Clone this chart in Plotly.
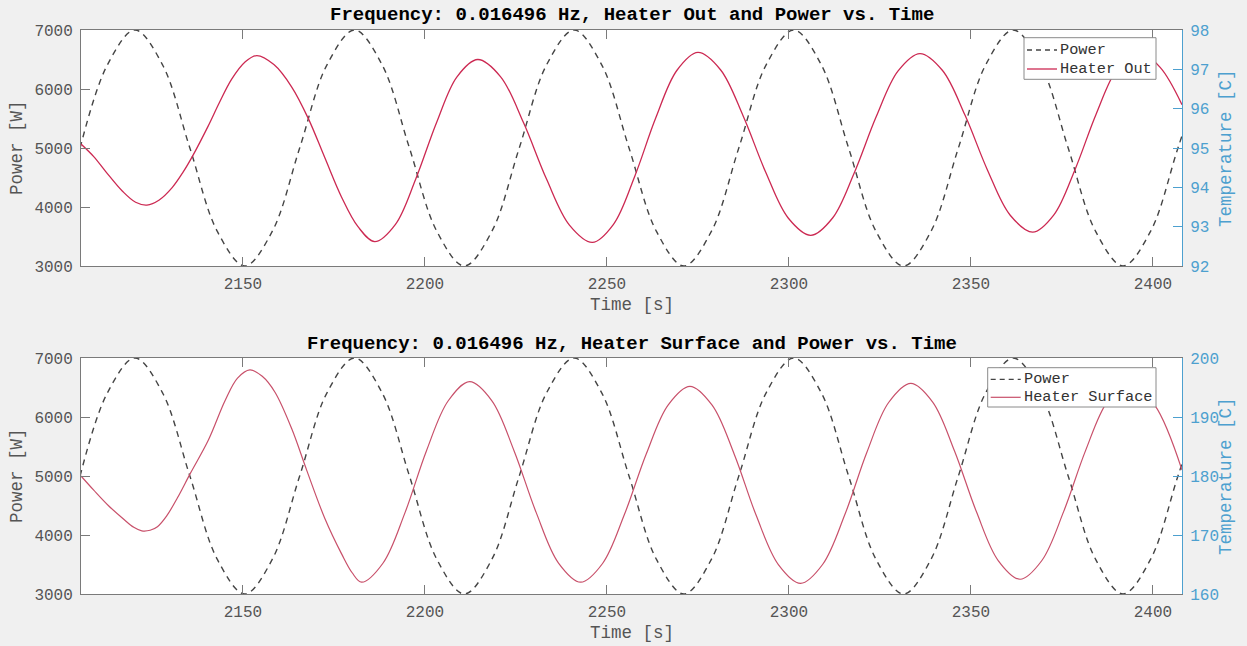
import plotly.graph_objects as go

# ---- data -------------------------------------------------------------
# heater power command (W), sampled every 1/8 of a cycle
power_t = [2105.25, 2112.79, 2120.33, 2127.87, 2135.41, 2142.96, 2150.50, 2158.04,
           2165.58, 2173.12, 2180.66, 2188.20, 2195.74, 2203.28, 2210.82, 2218.37,
           2225.91, 2233.45, 2240.99, 2248.53, 2256.07, 2263.61, 2271.15, 2278.69,
           2286.23, 2293.78, 2301.32, 2308.86, 2316.40, 2323.94, 2331.48, 2339.02,
           2346.56, 2354.10, 2361.64, 2369.19, 2376.73, 2384.27, 2391.81, 2399.35,
           2406.89, 2414.43]
power_w = [5000, 6414, 7000, 6414, 5000, 3586, 3000, 3586,
           5000, 6414, 7000, 6414, 5000, 3586, 3000, 3586,
           5000, 6414, 7000, 6414, 5000, 3586, 3000, 3586,
           5000, 6414, 7000, 6414, 5000, 3586, 3000, 3586,
           5000, 6414, 7000, 6414, 5000, 3586, 3000, 3586,
           5000, 6414]

# heater outlet temperature (C)
out_t = [2105.5, 2109.0, 2112.3, 2116.9, 2120.5, 2123.6, 2127.0, 2130.6, 2133.5,
         2136.3, 2140.4, 2143.5, 2146.9, 2150.5, 2153.8, 2158.5, 2163.4, 2167.9,
         2172.5, 2177.1, 2181.6, 2186.2,
         2191.9, 2197.5, 2203.2, 2208.8, 2214.5,
         2220.8, 2227.1, 2233.4, 2239.7, 2246.0,
         2251.8, 2257.6, 2263.4, 2269.2, 2275.0,
         2281.2, 2287.4, 2293.6, 2299.8, 2306.0,
         2312.0, 2318.0, 2324.0, 2330.0, 2336.0,
         2342.2, 2348.4, 2354.6, 2360.8, 2367.0,
         2372.8, 2378.6, 2384.4, 2390.2, 2396.0,
         2402.0, 2408.0]
out_c = [95.10, 94.78, 94.40, 93.90, 93.62, 93.55, 93.68, 94.00, 94.38,
         94.82, 95.55, 96.15, 96.75, 97.18, 97.35, 97.12, 96.55, 95.76,
         94.75, 93.75, 93.00, 92.62,
         93.06, 94.22, 95.65, 96.81, 97.25,
         96.81, 95.64, 94.21, 93.04, 92.60,
         93.06, 94.27, 95.76, 96.97, 97.43,
         96.99, 95.82, 94.39, 93.22, 92.78,
         93.22, 94.38, 95.80, 96.96, 97.40,
         96.97, 95.83, 94.43, 93.29, 92.86,
         93.30, 94.45, 95.86, 97.01, 97.45,
         97.05, 96.10]

# heater surface temperature (C)
surf_t = [2105.5, 2109.0, 2113.0, 2117.0, 2120.0, 2122.2, 2124.5, 2126.5, 2129.0,
          2132.0, 2135.5, 2140.5, 2145.1, 2148.5, 2151.9, 2155.3, 2158.8, 2163.4,
          2167.5, 2172.5, 2177.1, 2180.0, 2182.6,
          2188.5, 2194.5, 2200.4, 2206.4, 2212.3,
          2218.4, 2224.5, 2230.6, 2236.7, 2242.8,
          2248.8, 2254.8, 2260.8, 2266.8, 2272.8,
          2278.9, 2285.0, 2291.0, 2297.1, 2303.2,
          2309.3, 2315.4, 2321.4, 2327.4, 2333.5,
          2339.5, 2345.5, 2351.5, 2357.5, 2363.5,
          2369.5, 2375.5, 2381.5, 2387.5, 2393.5,
          2400.5, 2408.0]
surf_c = [180.0, 177.6, 175.0, 172.8, 171.3, 170.7, 170.8, 171.4, 173.2,
          176.3, 180.4, 186.1, 192.8, 196.6, 198.0, 196.9, 194.2, 188.0,
          181.0, 172.8, 166.8, 163.6, 162.0,
          165.25, 173.75, 184.25, 192.75, 196.0,
          192.75, 184.25, 173.75, 165.25, 162.0,
          165.17, 173.47, 183.73, 192.03, 195.2,
          192.01, 183.66, 173.34, 164.99, 161.8,
          165.04, 173.51, 183.99, 192.46, 195.7,
          192.53, 184.23, 173.97, 165.67, 162.5,
          165.68, 174.0, 184.3, 192.62, 195.8,
          192.0, 181.0]

time_range = [2105.5, 2408.0]
power_ticks = [3000, 4000, 5000, 6000, 7000]
time_ticks = [2150, 2200, 2250, 2300, 2350, 2400]
out_ticks = [92, 93, 94, 95, 96, 97, 98]
surf_ticks = [160, 170, 180, 190, 200]

# ---- styling ----------------------------------------------------------
W, H = 1247, 646
FONT = "Liberation Mono"
GREY = "#555555"
AXIS = "#7a7a7a"
BLUE = "#4da0cf"
POWER_COL = "#444444"
OUT_COL = "#cc2952"
SURF_COL = "#c8506a"
POWER_DASH = "6px,5px"

def px_x(p):
    return p / W

def px_y(p):
    return 1 - p / H

x_dom = [px_x(81), px_x(1182)]
top_dom = [px_y(266), px_y(30)]
bot_dom = [px_y(594), px_y(358)]

fig = go.Figure()

power_line = dict(color=POWER_COL, width=1.4, dash=POWER_DASH, shape="spline")

# top panel
fig.add_trace(go.Scatter(x=power_t, y=power_w, name="Power", mode="lines",
                         line=power_line, xaxis="x", yaxis="y", showlegend=False))
fig.add_trace(go.Scatter(x=out_t, y=out_c, name="Heater Out", mode="lines",
                         line=dict(color=OUT_COL, width=1.3, shape="spline"),
                         xaxis="x", yaxis="y2", showlegend=False))
# bottom panel
fig.add_trace(go.Scatter(x=power_t, y=power_w, name="Power", mode="lines",
                         line=power_line, xaxis="x2", yaxis="y3", showlegend=False))
fig.add_trace(go.Scatter(x=surf_t, y=surf_c, name="Heater Surface", mode="lines",
                         line=dict(color=SURF_COL, width=1.2, shape="spline"),
                         xaxis="x2", yaxis="y4", showlegend=False))

tick_font = dict(family=FONT, size=16, color=GREY)
blue_font = dict(family=FONT, size=16, color=BLUE)

def xaxis_cfg(anchor):
    return dict(domain=x_dom, anchor=anchor, range=time_range, tickvals=time_ticks,
                ticks="inside", ticklen=9, tickcolor=AXIS, showline=True, linecolor=AXIS,
                linewidth=1, mirror="ticks", showgrid=False, zeroline=False,
                tickfont=tick_font, ticklabelstandoff=3, automargin=False)

def left_cfg(dom, anchor):
    return dict(domain=dom, anchor=anchor, range=[3000, 7000], tickvals=power_ticks,
                ticks="inside", ticklen=9, tickcolor=AXIS, showline=True, linecolor=AXIS,
                linewidth=1, showgrid=False, zeroline=False, tickfont=tick_font,
                ticklabelstandoff=4, automargin=False)

def right_cfg(over, anchor, rng, vals):
    return dict(overlaying=over, anchor=anchor, side="right", range=rng, tickvals=vals,
                ticks="inside", ticklen=9, tickcolor=BLUE, showline=True, linecolor=BLUE,
                linewidth=1, showgrid=False, zeroline=False, tickfont=blue_font,
                ticklabelstandoff=4, automargin=False)

fig.update_layout(
    template="none",
    width=W, height=H, autosize=False, showlegend=False,
    margin=dict(l=0, r=0, t=0, b=0, pad=0, autoexpand=False),
    paper_bgcolor="#f0f0f0", plot_bgcolor="white",
    xaxis=xaxis_cfg("y"),
    yaxis=left_cfg(top_dom, "x"),
    yaxis2=right_cfg("y", "x", [92, 98], out_ticks),
    xaxis2=xaxis_cfg("y3"),
    yaxis3=left_cfg(bot_dom, "x2"),
    yaxis4=right_cfg("y3", "x2", [160, 200], surf_ticks),
)

title_font = dict(family=FONT, size=19, color="black", weight="bold")
label_font = dict(family=FONT, size=17.5, color=GREY)
legend_font = dict(family=FONT, size=15.3, color="#333333")
mid_x = (x_dom[0] + x_dom[1]) / 2

annotations = [
    dict(text="Frequency: 0.016496 Hz, Heater Out and Power vs. Time",
         x=mid_x, y=px_y(15), font=title_font),
    dict(text="Frequency: 0.016496 Hz, Heater Surface and Power vs. Time",
         x=mid_x, y=px_y(344), font=title_font),
    dict(text="Time [s]", x=mid_x, y=px_y(305), font=label_font),
    dict(text="Time [s]", x=mid_x, y=px_y(633), font=label_font),
    dict(text="Power [W]", x=px_x(17), y=px_y(148), textangle=-90, font=label_font),
    dict(text="Power [W]", x=px_x(17), y=px_y(476), textangle=-90, font=label_font),
    dict(text="Temperature [C]", x=px_x(1226), y=px_y(148), textangle=-90,
         font=dict(family=FONT, size=17.5, color=BLUE)),
    dict(text="Temperature [C]", x=px_x(1226), y=px_y(476), textangle=-90,
         font=dict(family=FONT, size=17.5, color=BLUE)),
]
for a in annotations:
    a.update(xanchor="center")

shapes = []

# boxed key in the upper-right corner of each panel
def add_key(box_l, box_r, box_t, box_b, rows):
    shapes.append(dict(type="rect", xref="paper", yref="paper",
                       x0=px_x(box_l), x1=px_x(box_r), y0=px_y(box_b), y1=px_y(box_t),
                       line=dict(color="#8a8a8a", width=1), fillcolor="white", layer="above"))
    for label, color, dash, width, y_px in rows:
        shapes.append(dict(type="line", xref="paper", yref="paper",
                           x0=px_x(box_l + 3), x1=px_x(box_l + 33), y0=px_y(y_px), y1=px_y(y_px),
                           line=dict(color=color, width=width, dash=dash), layer="above"))
        annotations.append(dict(text=label, x=px_x(box_l + 34), y=px_y(y_px),
                                xanchor="left", font=legend_font))

add_key(1024, 1156, 37.7, 79.3,
        [("Power", POWER_COL, "5px,4px", 1.3, 50),
         ("Heater Out", OUT_COL, "solid", 1.3, 69)])
add_key(987.7, 1156, 367.7, 407.0,
        [("Power", POWER_COL, "5px,4px", 1.3, 379.3),
         ("Heater Surface", SURF_COL, "solid", 1.2, 397.3)])

for a in annotations:
    a.update(xref="paper", yref="paper", showarrow=False, yanchor="middle")
fig.update_layout(annotations=annotations, shapes=shapes)

fig.write_html("out.html")
